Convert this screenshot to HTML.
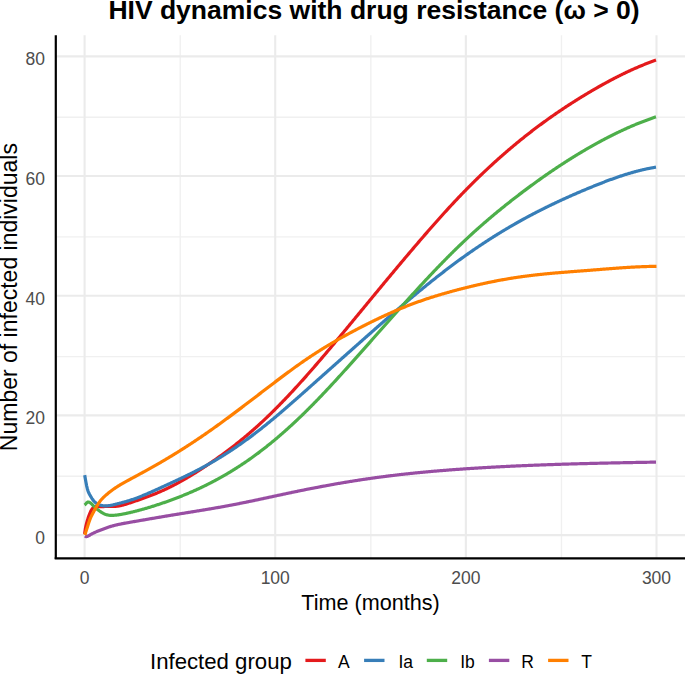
<!DOCTYPE html>
<html><head><meta charset="utf-8"><style>
html,body{margin:0;padding:0;background:#fff;}
body{width:685px;height:674px;overflow:hidden;}
svg{display:block;font-family:"Liberation Sans",sans-serif;}
.tk{font-size:17.5px;fill:#4D4D4D;}
.at{font-size:21.6px;fill:#000;}
.yt{font-size:23px;}
.tt{font-size:26.5px;font-weight:bold;fill:#000;}
.lt{font-size:22.2px;fill:#000;}
.lg{font-size:17.5px;fill:#000;}
</style></head><body>
<svg width="685" height="674" viewBox="0 0 685 674">
<rect width="685" height="674" fill="#fff"/>
<line x1="56.0" x2="685.0" y1="476.26" y2="476.26" stroke="#F0F0F0" stroke-width="1.4"/>
<line x1="56.0" x2="685.0" y1="356.58" y2="356.58" stroke="#F0F0F0" stroke-width="1.4"/>
<line x1="56.0" x2="685.0" y1="236.90" y2="236.90" stroke="#F0F0F0" stroke-width="1.4"/>
<line x1="56.0" x2="685.0" y1="117.22" y2="117.22" stroke="#F0F0F0" stroke-width="1.4"/>
<line y1="35.2" y2="558.0" x1="180.22" x2="180.22" stroke="#F0F0F0" stroke-width="1.4"/>
<line y1="35.2" y2="558.0" x1="370.84" x2="370.84" stroke="#F0F0F0" stroke-width="1.4"/>
<line y1="35.2" y2="558.0" x1="561.48" x2="561.48" stroke="#F0F0F0" stroke-width="1.4"/>
<line x1="56.0" x2="685.0" y1="535.10" y2="535.10" stroke="#EBEBEB" stroke-width="2.1"/>
<line x1="56.0" x2="685.0" y1="415.42" y2="415.42" stroke="#EBEBEB" stroke-width="2.1"/>
<line x1="56.0" x2="685.0" y1="295.74" y2="295.74" stroke="#EBEBEB" stroke-width="2.1"/>
<line x1="56.0" x2="685.0" y1="176.06" y2="176.06" stroke="#EBEBEB" stroke-width="2.1"/>
<line x1="56.0" x2="685.0" y1="56.38" y2="56.38" stroke="#EBEBEB" stroke-width="2.1"/>
<line y1="35.2" y2="558.0" x1="84.60" x2="84.60" stroke="#EBEBEB" stroke-width="2.1"/>
<line y1="35.2" y2="558.0" x1="275.23" x2="275.23" stroke="#EBEBEB" stroke-width="2.1"/>
<line y1="35.2" y2="558.0" x1="465.86" x2="465.86" stroke="#EBEBEB" stroke-width="2.1"/>
<line y1="35.2" y2="558.0" x1="656.49" x2="656.49" stroke="#EBEBEB" stroke-width="2.1"/>
<path d="M84.60,534.01 L85.27,529.38 L85.94,525.89 L86.60,523.15 L87.27,520.80 L87.94,518.61 L88.61,516.59 L89.27,514.74 L89.94,513.08 L90.61,511.61 L91.28,510.33 L91.94,509.25 L92.61,508.35 L93.28,507.63 L93.95,507.09 L94.61,506.72 L95.28,506.49 L95.95,506.39 L96.62,506.37 L97.28,506.42 L97.95,506.51 L98.62,506.60 L99.29,506.68 L99.95,506.73 L100.62,506.75 L101.29,506.74 L101.96,506.72 L102.62,506.68 L103.29,506.63 L103.96,506.58 L104.63,506.52 L105.29,506.47 L105.96,506.43 L106.63,506.40 L107.30,506.38 L107.96,506.38 L108.63,506.38 L109.30,506.38 L109.97,506.39 L110.63,506.40 L111.30,506.41 L111.97,506.42 L112.64,506.43 L113.30,506.43 L113.97,506.42 L114.64,506.40 L115.31,506.37 L115.97,506.32 L116.64,506.26 L117.31,506.19 L117.98,506.10 L118.64,505.99 L119.31,505.88 L119.98,505.75 L120.65,505.61 L121.31,505.46 L121.98,505.29 L122.65,505.12 L123.32,504.94 L123.98,504.76 L124.65,504.56 L125.32,504.37 L125.99,504.16 L126.65,503.95 L127.32,503.74 L127.99,503.52 L128.66,503.30 L129.32,503.08 L129.99,502.86 L130.66,502.63 L131.33,502.41 L131.99,502.19 L132.66,501.96 L133.33,501.74 L134.00,501.51 L134.66,501.29 L135.33,501.06 L136.00,500.83 L136.67,500.61 L137.33,500.38 L138.00,500.15 L138.67,499.92 L139.34,499.69 L140.00,499.46 L140.67,499.22 L141.34,498.99 L142.01,498.75 L142.67,498.52 L143.34,498.28 L144.01,498.04 L144.68,497.80 L145.34,497.55 L146.01,497.31 L146.68,497.06 L147.35,496.82 L148.01,496.57 L148.68,496.32 L149.35,496.07 L150.02,495.81 L150.68,495.55 L151.35,495.30 L152.02,495.03 L152.69,494.77 L153.35,494.51 L154.02,494.24 L154.69,493.97 L155.36,493.70 L156.02,493.42 L156.69,493.15 L157.36,492.87 L158.03,492.59 L158.70,492.30 L159.36,492.02 L160.03,491.73 L160.70,491.43 L161.37,491.14 L162.03,490.84 L162.70,490.54 L163.37,490.24 L164.04,489.93 L164.70,489.62 L165.37,489.31 L166.04,488.99 L166.71,488.68 L167.37,488.36 L168.04,488.03 L168.71,487.71 L169.38,487.38 L170.04,487.05 L170.71,486.72 L171.38,486.38 L172.05,486.05 L172.71,485.71 L173.38,485.36 L174.05,485.02 L174.72,484.67 L175.38,484.32 L176.05,483.97 L176.72,483.61 L177.39,483.26 L178.05,482.90 L178.72,482.54 L179.39,482.17 L180.06,481.80 L180.72,481.44 L181.39,481.06 L182.06,480.69 L182.73,480.32 L183.39,479.94 L184.06,479.56 L184.73,479.17 L185.40,478.79 L186.06,478.40 L186.73,478.01 L187.40,477.62 L188.07,477.23 L188.73,476.84 L189.40,476.44 L190.07,476.04 L190.74,475.64 L191.40,475.23 L192.07,474.83 L192.74,474.42 L193.41,474.01 L194.07,473.60 L194.74,473.19 L195.41,472.77 L196.08,472.35 L196.74,471.93 L197.41,471.51 L198.08,471.09 L198.75,470.66 L199.41,470.24 L200.08,469.81 L200.75,469.38 L201.42,468.95 L202.08,468.51 L202.75,468.08 L203.42,467.64 L204.09,467.20 L204.75,466.76 L205.42,466.32 L206.09,465.87 L206.76,465.43 L207.42,464.98 L208.09,464.53 L208.76,464.08 L209.43,463.63 L210.09,463.17 L210.76,462.72 L211.43,462.26 L212.10,461.80 L212.76,461.34 L213.43,460.88 L214.10,460.42 L214.77,459.95 L215.43,459.48 L216.10,459.02 L216.77,458.55 L217.44,458.07 L218.10,457.60 L218.77,457.12 L219.44,456.65 L220.11,456.17 L220.77,455.69 L221.44,455.21 L222.11,454.72 L222.78,454.24 L223.44,453.75 L224.11,453.26 L224.78,452.77 L225.45,452.27 L226.11,451.78 L226.78,451.28 L227.45,450.78 L228.12,450.28 L228.79,449.78 L229.45,449.27 L230.12,448.76 L230.79,448.25 L231.46,447.74 L232.12,447.23 L232.79,446.71 L233.46,446.20 L234.13,445.68 L234.79,445.16 L235.46,444.63 L236.13,444.11 L236.80,443.58 L237.46,443.05 L238.13,442.52 L238.80,441.98 L239.47,441.45 L240.13,440.91 L240.80,440.37 L241.47,439.83 L242.14,439.28 L242.80,438.73 L243.47,438.18 L244.14,437.63 L244.81,437.08 L245.47,436.52 L246.14,435.96 L246.81,435.40 L247.48,434.84 L248.14,434.27 L248.81,433.70 L249.48,433.13 L250.15,432.56 L250.81,431.98 L251.48,431.40 L252.15,430.82 L252.82,430.24 L253.48,429.65 L254.15,429.07 L254.82,428.48 L255.49,427.88 L256.15,427.29 L256.82,426.69 L257.49,426.09 L258.16,425.48 L258.82,424.88 L259.49,424.27 L260.16,423.66 L260.83,423.04 L261.49,422.43 L262.16,421.81 L262.83,421.19 L263.50,420.56 L264.16,419.94 L264.83,419.31 L265.50,418.68 L266.17,418.04 L266.83,417.40 L267.50,416.77 L268.17,416.12 L268.84,415.48 L269.50,414.83 L270.17,414.18 L270.84,413.53 L271.51,412.88 L272.17,412.22 L272.84,411.56 L273.51,410.90 L274.18,410.24 L274.84,409.58 L275.51,408.91 L276.18,408.24 L276.85,407.57 L277.51,406.89 L278.18,406.22 L278.85,405.54 L279.52,404.86 L280.18,404.17 L280.85,403.49 L281.52,402.80 L282.19,402.11 L282.85,401.42 L283.52,400.73 L284.19,400.03 L284.86,399.34 L285.52,398.64 L286.19,397.94 L286.86,397.23 L287.53,396.53 L288.19,395.82 L288.86,395.11 L289.53,394.40 L290.20,393.69 L290.86,392.97 L291.53,392.26 L292.20,391.54 L292.87,390.82 L293.53,390.10 L294.20,389.37 L294.87,388.65 L295.54,387.92 L296.20,387.19 L296.87,386.46 L297.54,385.73 L298.21,385.00 L298.88,384.26 L299.54,383.52 L300.21,382.79 L300.88,382.05 L301.55,381.30 L302.21,380.56 L302.88,379.82 L303.55,379.07 L304.22,378.32 L304.88,377.57 L305.55,376.82 L306.22,376.07 L306.89,375.31 L307.55,374.56 L308.22,373.80 L308.89,373.04 L309.56,372.28 L310.22,371.52 L310.89,370.76 L311.56,370.00 L312.23,369.23 L312.89,368.47 L313.56,367.70 L314.23,366.93 L314.90,366.16 L315.56,365.39 L316.23,364.62 L316.90,363.84 L317.57,363.07 L318.23,362.29 L318.90,361.52 L319.57,360.74 L320.24,359.96 L320.90,359.18 L321.57,358.40 L322.24,357.62 L322.91,356.83 L323.57,356.05 L324.24,355.27 L324.91,354.48 L325.58,353.69 L326.24,352.90 L326.91,352.12 L327.58,351.33 L328.25,350.54 L328.91,349.74 L329.58,348.95 L330.25,348.16 L330.92,347.37 L331.58,346.57 L332.25,345.78 L332.92,344.98 L333.59,344.18 L334.25,343.39 L334.92,342.59 L335.59,341.79 L336.26,340.99 L336.92,340.19 L337.59,339.39 L338.26,338.59 L338.93,337.79 L339.59,336.98 L340.26,336.18 L340.93,335.38 L341.60,334.57 L342.26,333.77 L342.93,332.96 L343.60,332.16 L344.27,331.35 L344.93,330.55 L345.60,329.74 L346.27,328.93 L346.94,328.13 L347.60,327.32 L348.27,326.51 L348.94,325.70 L349.61,324.89 L350.27,324.09 L350.94,323.28 L351.61,322.47 L352.28,321.66 L352.94,320.85 L353.61,320.04 L354.28,319.23 L354.95,318.42 L355.61,317.61 L356.28,316.80 L356.95,315.99 L357.62,315.18 L358.28,314.37 L358.95,313.56 L359.62,312.75 L360.29,311.94 L360.95,311.13 L361.62,310.32 L362.29,309.51 L362.96,308.70 L363.62,307.89 L364.29,307.08 L364.96,306.27 L365.63,305.46 L366.29,304.65 L366.96,303.84 L367.63,303.03 L368.30,302.22 L368.96,301.41 L369.63,300.60 L370.30,299.79 L370.97,298.98 L371.64,298.17 L372.30,297.36 L372.97,296.56 L373.64,295.75 L374.31,294.94 L374.97,294.13 L375.64,293.32 L376.31,292.52 L376.98,291.71 L377.64,290.90 L378.31,290.09 L378.98,289.29 L379.65,288.48 L380.31,287.68 L380.98,286.87 L381.65,286.06 L382.32,285.26 L382.98,284.45 L383.65,283.65 L384.32,282.84 L384.99,282.04 L385.65,281.24 L386.32,280.43 L386.99,279.63 L387.66,278.83 L388.32,278.02 L388.99,277.22 L389.66,276.42 L390.33,275.62 L390.99,274.82 L391.66,274.02 L392.33,273.22 L393.00,272.42 L393.66,271.62 L394.33,270.82 L395.00,270.02 L395.67,269.22 L396.33,268.42 L397.00,267.62 L397.67,266.83 L398.34,266.03 L399.00,265.23 L399.67,264.44 L400.34,263.64 L401.01,262.85 L401.67,262.05 L402.34,261.26 L403.01,260.47 L403.68,259.67 L404.34,258.88 L405.01,258.09 L405.68,257.30 L406.35,256.51 L407.01,255.72 L407.68,254.93 L408.35,254.14 L409.02,253.35 L409.68,252.56 L410.35,251.78 L411.02,250.99 L411.69,250.20 L412.35,249.42 L413.02,248.63 L413.69,247.85 L414.36,247.07 L415.02,246.28 L415.69,245.50 L416.36,244.72 L417.03,243.94 L417.69,243.16 L418.36,242.38 L419.03,241.60 L419.70,240.82 L420.36,240.05 L421.03,239.27 L421.70,238.50 L422.37,237.72 L423.03,236.95 L423.70,236.18 L424.37,235.41 L425.04,234.64 L425.70,233.87 L426.37,233.10 L427.04,232.33 L427.71,231.56 L428.37,230.80 L429.04,230.03 L429.71,229.27 L430.38,228.51 L431.04,227.75 L431.71,226.99 L432.38,226.23 L433.05,225.47 L433.71,224.71 L434.38,223.96 L435.05,223.20 L435.72,222.45 L436.38,221.70 L437.05,220.95 L437.72,220.20 L438.39,219.45 L439.05,218.71 L439.72,217.96 L440.39,217.22 L441.06,216.47 L441.73,215.73 L442.39,214.99 L443.06,214.25 L443.73,213.52 L444.40,212.78 L445.06,212.04 L445.73,211.31 L446.40,210.58 L447.07,209.85 L447.73,209.12 L448.40,208.39 L449.07,207.67 L449.74,206.95 L450.40,206.22 L451.07,205.50 L451.74,204.78 L452.41,204.07 L453.07,203.35 L453.74,202.63 L454.41,201.92 L455.08,201.21 L455.74,200.50 L456.41,199.79 L457.08,199.09 L457.75,198.38 L458.41,197.68 L459.08,196.98 L459.75,196.28 L460.42,195.59 L461.08,194.89 L461.75,194.20 L462.42,193.51 L463.09,192.82 L463.75,192.13 L464.42,191.44 L465.09,190.76 L465.76,190.08 L466.42,189.40 L467.09,188.72 L467.76,188.04 L468.43,187.36 L469.09,186.69 L469.76,186.02 L470.43,185.35 L471.10,184.68 L471.76,184.02 L472.43,183.35 L473.10,182.69 L473.77,182.03 L474.43,181.37 L475.10,180.71 L475.77,180.06 L476.44,179.40 L477.10,178.75 L477.77,178.10 L478.44,177.45 L479.11,176.80 L479.77,176.16 L480.44,175.52 L481.11,174.87 L481.78,174.23 L482.44,173.60 L483.11,172.96 L483.78,172.33 L484.45,171.69 L485.11,171.06 L485.78,170.43 L486.45,169.81 L487.12,169.18 L487.78,168.56 L488.45,167.93 L489.12,167.31 L489.79,166.69 L490.45,166.08 L491.12,165.46 L491.79,164.85 L492.46,164.24 L493.12,163.63 L493.79,163.02 L494.46,162.41 L495.13,161.81 L495.79,161.20 L496.46,160.60 L497.13,160.00 L497.80,159.40 L498.46,158.81 L499.13,158.21 L499.80,157.62 L500.47,157.03 L501.13,156.44 L501.80,155.85 L502.47,155.27 L503.14,154.68 L503.80,154.10 L504.47,153.52 L505.14,152.94 L505.81,152.36 L506.47,151.78 L507.14,151.21 L507.81,150.64 L508.48,150.07 L509.14,149.50 L509.81,148.93 L510.48,148.36 L511.15,147.80 L511.81,147.24 L512.48,146.68 L513.15,146.12 L513.82,145.56 L514.49,145.00 L515.15,144.45 L515.82,143.90 L516.49,143.35 L517.16,142.80 L517.82,142.25 L518.49,141.70 L519.16,141.16 L519.83,140.62 L520.49,140.08 L521.16,139.54 L521.83,139.00 L522.50,138.46 L523.16,137.93 L523.83,137.39 L524.50,136.86 L525.17,136.33 L525.83,135.81 L526.50,135.28 L527.17,134.75 L527.84,134.23 L528.50,133.71 L529.17,133.19 L529.84,132.67 L530.51,132.15 L531.17,131.64 L531.84,131.13 L532.51,130.61 L533.18,130.10 L533.84,129.59 L534.51,129.09 L535.18,128.58 L535.85,128.08 L536.51,127.57 L537.18,127.07 L537.85,126.57 L538.52,126.07 L539.18,125.58 L539.85,125.08 L540.52,124.59 L541.19,124.10 L541.85,123.60 L542.52,123.12 L543.19,122.63 L543.86,122.14 L544.52,121.66 L545.19,121.17 L545.86,120.69 L546.53,120.21 L547.19,119.73 L547.86,119.25 L548.53,118.78 L549.20,118.30 L549.86,117.83 L550.53,117.36 L551.20,116.89 L551.87,116.42 L552.53,115.95 L553.20,115.49 L553.87,115.02 L554.54,114.56 L555.20,114.10 L555.87,113.64 L556.54,113.18 L557.21,112.72 L557.87,112.26 L558.54,111.81 L559.21,111.36 L559.88,110.90 L560.54,110.45 L561.21,110.00 L561.88,109.56 L562.55,109.11 L563.21,108.66 L563.88,108.22 L564.55,107.78 L565.22,107.34 L565.88,106.90 L566.55,106.46 L567.22,106.02 L567.89,105.59 L568.55,105.15 L569.22,104.72 L569.89,104.29 L570.56,103.85 L571.22,103.43 L571.89,103.00 L572.56,102.57 L573.23,102.15 L573.89,101.72 L574.56,101.30 L575.23,100.88 L575.90,100.46 L576.56,100.04 L577.23,99.62 L577.90,99.20 L578.57,98.79 L579.23,98.37 L579.90,97.96 L580.57,97.55 L581.24,97.14 L581.90,96.73 L582.57,96.32 L583.24,95.91 L583.91,95.51 L584.57,95.10 L585.24,94.70 L585.91,94.30 L586.58,93.90 L587.25,93.50 L587.91,93.10 L588.58,92.70 L589.25,92.31 L589.92,91.91 L590.58,91.52 L591.25,91.12 L591.92,90.73 L592.59,90.34 L593.25,89.95 L593.92,89.57 L594.59,89.18 L595.26,88.79 L595.92,88.41 L596.59,88.03 L597.26,87.64 L597.93,87.26 L598.59,86.88 L599.26,86.51 L599.93,86.13 L600.60,85.75 L601.26,85.38 L601.93,85.01 L602.60,84.64 L603.27,84.27 L603.93,83.90 L604.60,83.53 L605.27,83.17 L605.94,82.80 L606.60,82.44 L607.27,82.08 L607.94,81.72 L608.61,81.36 L609.27,81.00 L609.94,80.64 L610.61,80.29 L611.28,79.94 L611.94,79.58 L612.61,79.23 L613.28,78.89 L613.95,78.54 L614.61,78.19 L615.28,77.85 L615.95,77.51 L616.62,77.16 L617.28,76.83 L617.95,76.49 L618.62,76.15 L619.29,75.82 L619.95,75.48 L620.62,75.15 L621.29,74.82 L621.96,74.49 L622.62,74.17 L623.29,73.84 L623.96,73.52 L624.63,73.20 L625.29,72.87 L625.96,72.56 L626.63,72.24 L627.30,71.92 L627.96,71.61 L628.63,71.30 L629.30,70.99 L629.97,70.68 L630.63,70.37 L631.30,70.07 L631.97,69.77 L632.64,69.46 L633.30,69.16 L633.97,68.87 L634.64,68.57 L635.31,68.28 L635.97,67.98 L636.64,67.69 L637.31,67.41 L637.98,67.12 L638.64,66.83 L639.31,66.55 L639.98,66.27 L640.65,65.99 L641.31,65.71 L641.98,65.44 L642.65,65.16 L643.32,64.89 L643.98,64.62 L644.65,64.35 L645.32,64.09 L645.99,63.82 L646.65,63.56 L647.32,63.30 L647.99,63.04 L648.66,62.79 L649.32,62.53 L649.99,62.28 L650.66,62.03 L651.33,61.78 L651.99,61.54 L652.66,61.29 L653.33,61.05 L654.00,60.81 L654.66,60.57 L655.33,60.34 L656.00,60.10" fill="none" stroke="#E41A1C" stroke-width="3.2" stroke-linejoin="round" stroke-linecap="butt"/>
<path d="M84.70,475.10 L85.37,478.93 L86.04,482.69 L86.70,486.11 L87.37,488.91 L88.04,491.07 L88.71,492.74 L89.38,494.08 L90.05,495.25 L90.71,496.39 L91.38,497.49 L92.05,498.54 L92.72,499.53 L93.39,500.44 L94.05,501.25 L94.72,501.96 L95.39,502.57 L96.06,503.09 L96.73,503.54 L97.40,503.93 L98.06,504.26 L98.73,504.54 L99.40,504.80 L100.07,505.02 L100.74,505.22 L101.40,505.39 L102.07,505.54 L102.74,505.66 L103.41,505.75 L104.08,505.82 L104.75,505.87 L105.41,505.89 L106.08,505.90 L106.75,505.88 L107.42,505.84 L108.09,505.78 L108.75,505.70 L109.42,505.61 L110.09,505.50 L110.76,505.38 L111.43,505.25 L112.10,505.11 L112.76,504.96 L113.43,504.80 L114.10,504.64 L114.77,504.47 L115.44,504.31 L116.10,504.14 L116.77,503.97 L117.44,503.80 L118.11,503.63 L118.78,503.46 L119.45,503.29 L120.11,503.11 L120.78,502.94 L121.45,502.77 L122.12,502.59 L122.79,502.41 L123.45,502.23 L124.12,502.05 L124.79,501.87 L125.46,501.68 L126.13,501.49 L126.80,501.30 L127.46,501.10 L128.13,500.91 L128.80,500.70 L129.47,500.50 L130.14,500.29 L130.80,500.07 L131.47,499.85 L132.14,499.63 L132.81,499.40 L133.48,499.17 L134.15,498.94 L134.81,498.70 L135.48,498.46 L136.15,498.21 L136.82,497.97 L137.49,497.71 L138.15,497.46 L138.82,497.20 L139.49,496.94 L140.16,496.68 L140.83,496.41 L141.50,496.14 L142.16,495.87 L142.83,495.60 L143.50,495.32 L144.17,495.04 L144.84,494.76 L145.51,494.48 L146.17,494.19 L146.84,493.91 L147.51,493.62 L148.18,493.33 L148.85,493.04 L149.51,492.74 L150.18,492.45 L150.85,492.15 L151.52,491.86 L152.19,491.56 L152.86,491.26 L153.52,490.96 L154.19,490.65 L154.86,490.35 L155.53,490.05 L156.20,489.75 L156.86,489.44 L157.53,489.14 L158.20,488.83 L158.87,488.53 L159.54,488.22 L160.21,487.92 L160.87,487.61 L161.54,487.31 L162.21,487.00 L162.88,486.70 L163.55,486.39 L164.21,486.09 L164.88,485.78 L165.55,485.48 L166.22,485.17 L166.89,484.87 L167.56,484.56 L168.22,484.25 L168.89,483.95 L169.56,483.64 L170.23,483.33 L170.90,483.02 L171.56,482.72 L172.23,482.41 L172.90,482.10 L173.57,481.79 L174.24,481.48 L174.91,481.17 L175.57,480.86 L176.24,480.55 L176.91,480.23 L177.58,479.92 L178.25,479.61 L178.91,479.29 L179.58,478.98 L180.25,478.66 L180.92,478.35 L181.59,478.03 L182.26,477.71 L182.92,477.39 L183.59,477.07 L184.26,476.75 L184.93,476.43 L185.60,476.11 L186.26,475.78 L186.93,475.46 L187.60,475.13 L188.27,474.81 L188.94,474.48 L189.61,474.15 L190.27,473.82 L190.94,473.49 L191.61,473.15 L192.28,472.82 L192.95,472.48 L193.61,472.15 L194.28,471.81 L194.95,471.47 L195.62,471.13 L196.29,470.79 L196.96,470.44 L197.62,470.10 L198.29,469.75 L198.96,469.40 L199.63,469.05 L200.30,468.70 L200.96,468.35 L201.63,467.99 L202.30,467.64 L202.97,467.28 L203.64,466.92 L204.31,466.56 L204.97,466.19 L205.64,465.83 L206.31,465.46 L206.98,465.09 L207.65,464.72 L208.31,464.35 L208.98,463.97 L209.65,463.60 L210.32,463.22 L210.99,462.84 L211.66,462.45 L212.32,462.07 L212.99,461.68 L213.66,461.29 L214.33,460.90 L215.00,460.51 L215.66,460.11 L216.33,459.72 L217.00,459.32 L217.67,458.92 L218.34,458.51 L219.01,458.11 L219.67,457.70 L220.34,457.29 L221.01,456.88 L221.68,456.47 L222.35,456.05 L223.01,455.64 L223.68,455.22 L224.35,454.80 L225.02,454.38 L225.69,453.95 L226.36,453.52 L227.02,453.09 L227.69,452.66 L228.36,452.23 L229.03,451.80 L229.70,451.36 L230.36,450.92 L231.03,450.48 L231.70,450.04 L232.37,449.59 L233.04,449.15 L233.71,448.70 L234.37,448.25 L235.04,447.80 L235.71,447.34 L236.38,446.89 L237.05,446.43 L237.71,445.97 L238.38,445.51 L239.05,445.04 L239.72,444.58 L240.39,444.11 L241.06,443.64 L241.72,443.17 L242.39,442.69 L243.06,442.22 L243.73,441.74 L244.40,441.26 L245.06,440.78 L245.73,440.30 L246.40,439.81 L247.07,439.33 L247.74,438.84 L248.41,438.35 L249.07,437.85 L249.74,437.36 L250.41,436.86 L251.08,436.37 L251.75,435.87 L252.41,435.36 L253.08,434.86 L253.75,434.35 L254.42,433.85 L255.09,433.34 L255.76,432.83 L256.42,432.31 L257.09,431.80 L257.76,431.28 L258.43,430.76 L259.10,430.24 L259.77,429.72 L260.43,429.20 L261.10,428.67 L261.77,428.14 L262.44,427.61 L263.11,427.08 L263.77,426.55 L264.44,426.01 L265.11,425.48 L265.78,424.94 L266.45,424.40 L267.12,423.86 L267.78,423.31 L268.45,422.77 L269.12,422.22 L269.79,421.68 L270.46,421.13 L271.12,420.58 L271.79,420.02 L272.46,419.47 L273.13,418.92 L273.80,418.36 L274.47,417.80 L275.13,417.24 L275.80,416.68 L276.47,416.12 L277.14,415.56 L277.81,414.99 L278.47,414.43 L279.14,413.86 L279.81,413.30 L280.48,412.73 L281.15,412.16 L281.82,411.59 L282.48,411.01 L283.15,410.44 L283.82,409.87 L284.49,409.29 L285.16,408.72 L285.82,408.14 L286.49,407.56 L287.16,406.98 L287.83,406.40 L288.50,405.82 L289.17,405.24 L289.83,404.66 L290.50,404.08 L291.17,403.50 L291.84,402.91 L292.51,402.33 L293.17,401.74 L293.84,401.15 L294.51,400.57 L295.18,399.98 L295.85,399.39 L296.52,398.80 L297.18,398.22 L297.85,397.63 L298.52,397.04 L299.19,396.44 L299.86,395.85 L300.52,395.26 L301.19,394.67 L301.86,394.08 L302.53,393.49 L303.20,392.89 L303.87,392.30 L304.53,391.71 L305.20,391.11 L305.87,390.52 L306.54,389.93 L307.21,389.33 L307.87,388.74 L308.54,388.14 L309.21,387.55 L309.88,386.95 L310.55,386.36 L311.22,385.77 L311.88,385.17 L312.55,384.58 L313.22,383.98 L313.89,383.39 L314.56,382.79 L315.22,382.20 L315.89,381.60 L316.56,381.01 L317.23,380.41 L317.90,379.82 L318.57,379.22 L319.23,378.63 L319.90,378.03 L320.57,377.44 L321.24,376.84 L321.91,376.25 L322.57,375.65 L323.24,375.06 L323.91,374.46 L324.58,373.87 L325.25,373.27 L325.92,372.68 L326.58,372.08 L327.25,371.49 L327.92,370.89 L328.59,370.30 L329.26,369.70 L329.92,369.11 L330.59,368.51 L331.26,367.92 L331.93,367.32 L332.60,366.73 L333.27,366.13 L333.93,365.54 L334.60,364.95 L335.27,364.35 L335.94,363.76 L336.61,363.16 L337.27,362.57 L337.94,361.97 L338.61,361.38 L339.28,360.78 L339.95,360.19 L340.62,359.59 L341.28,359.00 L341.95,358.41 L342.62,357.81 L343.29,357.22 L343.96,356.62 L344.62,356.03 L345.29,355.44 L345.96,354.84 L346.63,354.25 L347.30,353.65 L347.97,353.06 L348.63,352.47 L349.30,351.87 L349.97,351.28 L350.64,350.69 L351.31,350.09 L351.97,349.50 L352.64,348.91 L353.31,348.31 L353.98,347.72 L354.65,347.13 L355.32,346.54 L355.98,345.94 L356.65,345.35 L357.32,344.76 L357.99,344.17 L358.66,343.57 L359.32,342.98 L359.99,342.39 L360.66,341.80 L361.33,341.21 L362.00,340.61 L362.67,340.02 L363.33,339.43 L364.00,338.84 L364.67,338.25 L365.34,337.66 L366.01,337.07 L366.67,336.48 L367.34,335.89 L368.01,335.30 L368.68,334.71 L369.35,334.12 L370.02,333.53 L370.68,332.94 L371.35,332.35 L372.02,331.76 L372.69,331.17 L373.36,330.58 L374.03,329.99 L374.69,329.41 L375.36,328.82 L376.03,328.23 L376.70,327.64 L377.37,327.06 L378.03,326.47 L378.70,325.89 L379.37,325.30 L380.04,324.72 L380.71,324.13 L381.38,323.55 L382.04,322.96 L382.71,322.38 L383.38,321.80 L384.05,321.21 L384.72,320.63 L385.38,320.05 L386.05,319.47 L386.72,318.88 L387.39,318.30 L388.06,317.72 L388.73,317.14 L389.39,316.56 L390.06,315.98 L390.73,315.41 L391.40,314.83 L392.07,314.25 L392.73,313.67 L393.40,313.10 L394.07,312.52 L394.74,311.94 L395.41,311.37 L396.08,310.80 L396.74,310.22 L397.41,309.65 L398.08,309.07 L398.75,308.50 L399.42,307.93 L400.08,307.36 L400.75,306.79 L401.42,306.22 L402.09,305.65 L402.76,305.08 L403.43,304.51 L404.09,303.95 L404.76,303.38 L405.43,302.81 L406.10,302.25 L406.77,301.68 L407.43,301.12 L408.10,300.56 L408.77,299.99 L409.44,299.43 L410.11,298.87 L410.78,298.31 L411.44,297.75 L412.11,297.19 L412.78,296.63 L413.45,296.07 L414.12,295.52 L414.78,294.96 L415.45,294.40 L416.12,293.85 L416.79,293.30 L417.46,292.74 L418.13,292.19 L418.79,291.64 L419.46,291.09 L420.13,290.54 L420.80,289.99 L421.47,289.44 L422.13,288.90 L422.80,288.35 L423.47,287.80 L424.14,287.26 L424.81,286.71 L425.48,286.17 L426.14,285.63 L426.81,285.09 L427.48,284.55 L428.15,284.01 L428.82,283.47 L429.48,282.93 L430.15,282.40 L430.82,281.86 L431.49,281.33 L432.16,280.79 L432.83,280.26 L433.49,279.73 L434.16,279.20 L434.83,278.67 L435.50,278.14 L436.17,277.61 L436.83,277.09 L437.50,276.56 L438.17,276.04 L438.84,275.51 L439.51,274.99 L440.18,274.47 L440.84,273.95 L441.51,273.43 L442.18,272.91 L442.85,272.40 L443.52,271.88 L444.18,271.37 L444.85,270.85 L445.52,270.34 L446.19,269.83 L446.86,269.32 L447.53,268.81 L448.19,268.30 L448.86,267.79 L449.53,267.29 L450.20,266.78 L450.87,266.28 L451.53,265.78 L452.20,265.28 L452.87,264.78 L453.54,264.28 L454.21,263.78 L454.88,263.29 L455.54,262.79 L456.21,262.30 L456.88,261.81 L457.55,261.32 L458.22,260.83 L458.88,260.34 L459.55,259.85 L460.22,259.37 L460.89,258.88 L461.56,258.40 L462.23,257.92 L462.89,257.44 L463.56,256.96 L464.23,256.48 L464.90,256.00 L465.57,255.53 L466.23,255.05 L466.90,254.58 L467.57,254.11 L468.24,253.64 L468.91,253.17 L469.58,252.70 L470.24,252.24 L470.91,251.77 L471.58,251.31 L472.25,250.85 L472.92,250.39 L473.58,249.93 L474.25,249.47 L474.92,249.01 L475.59,248.55 L476.26,248.10 L476.93,247.65 L477.59,247.19 L478.26,246.74 L478.93,246.29 L479.60,245.85 L480.27,245.40 L480.93,244.95 L481.60,244.51 L482.27,244.07 L482.94,243.62 L483.61,243.18 L484.28,242.74 L484.94,242.31 L485.61,241.87 L486.28,241.43 L486.95,241.00 L487.62,240.57 L488.29,240.13 L488.95,239.70 L489.62,239.27 L490.29,238.85 L490.96,238.42 L491.63,237.99 L492.29,237.57 L492.96,237.15 L493.63,236.73 L494.30,236.30 L494.97,235.89 L495.64,235.47 L496.30,235.05 L496.97,234.64 L497.64,234.22 L498.31,233.81 L498.98,233.40 L499.64,232.99 L500.31,232.58 L500.98,232.17 L501.65,231.76 L502.32,231.36 L502.99,230.95 L503.65,230.55 L504.32,230.15 L504.99,229.75 L505.66,229.35 L506.33,228.95 L506.99,228.55 L507.66,228.16 L508.33,227.76 L509.00,227.37 L509.67,226.98 L510.34,226.59 L511.00,226.20 L511.67,225.81 L512.34,225.42 L513.01,225.04 L513.68,224.65 L514.34,224.27 L515.01,223.89 L515.68,223.50 L516.35,223.13 L517.02,222.75 L517.69,222.37 L518.35,221.99 L519.02,221.62 L519.69,221.24 L520.36,220.87 L521.03,220.50 L521.69,220.13 L522.36,219.76 L523.03,219.39 L523.70,219.03 L524.37,218.66 L525.04,218.30 L525.70,217.94 L526.37,217.57 L527.04,217.21 L527.71,216.85 L528.38,216.50 L529.04,216.14 L529.71,215.78 L530.38,215.43 L531.05,215.07 L531.72,214.72 L532.39,214.37 L533.05,214.02 L533.72,213.67 L534.39,213.32 L535.06,212.97 L535.73,212.63 L536.39,212.28 L537.06,211.94 L537.73,211.60 L538.40,211.25 L539.07,210.91 L539.74,210.57 L540.40,210.24 L541.07,209.90 L541.74,209.56 L542.41,209.23 L543.08,208.89 L543.74,208.56 L544.41,208.23 L545.08,207.89 L545.75,207.56 L546.42,207.23 L547.09,206.91 L547.75,206.58 L548.42,206.25 L549.09,205.93 L549.76,205.60 L550.43,205.28 L551.09,204.96 L551.76,204.63 L552.43,204.31 L553.10,203.99 L553.77,203.68 L554.44,203.36 L555.10,203.04 L555.77,202.73 L556.44,202.41 L557.11,202.10 L557.78,201.78 L558.44,201.47 L559.11,201.16 L559.78,200.85 L560.45,200.54 L561.12,200.23 L561.79,199.92 L562.45,199.62 L563.12,199.31 L563.79,199.01 L564.46,198.70 L565.13,198.40 L565.79,198.10 L566.46,197.79 L567.13,197.49 L567.80,197.19 L568.47,196.89 L569.14,196.60 L569.80,196.30 L570.47,196.00 L571.14,195.71 L571.81,195.41 L572.48,195.12 L573.14,194.82 L573.81,194.53 L574.48,194.24 L575.15,193.95 L575.82,193.66 L576.49,193.37 L577.15,193.08 L577.82,192.79 L578.49,192.50 L579.16,192.22 L579.83,191.93 L580.49,191.65 L581.16,191.36 L581.83,191.08 L582.50,190.79 L583.17,190.51 L583.84,190.23 L584.50,189.95 L585.17,189.67 L585.84,189.39 L586.51,189.11 L587.18,188.83 L587.84,188.56 L588.51,188.28 L589.18,188.00 L589.85,187.73 L590.52,187.45 L591.19,187.18 L591.85,186.91 L592.52,186.63 L593.19,186.36 L593.86,186.09 L594.53,185.82 L595.19,185.55 L595.86,185.28 L596.53,185.01 L597.20,184.75 L597.87,184.48 L598.54,184.21 L599.20,183.95 L599.87,183.69 L600.54,183.42 L601.21,183.16 L601.88,182.90 L602.55,182.64 L603.21,182.38 L603.88,182.13 L604.55,181.87 L605.22,181.62 L605.89,181.36 L606.55,181.11 L607.22,180.86 L607.89,180.61 L608.56,180.36 L609.23,180.11 L609.90,179.86 L610.56,179.62 L611.23,179.38 L611.90,179.13 L612.57,178.89 L613.24,178.65 L613.90,178.41 L614.57,178.18 L615.24,177.94 L615.91,177.71 L616.58,177.47 L617.25,177.24 L617.91,177.01 L618.58,176.79 L619.25,176.56 L619.92,176.33 L620.59,176.11 L621.25,175.89 L621.92,175.67 L622.59,175.45 L623.26,175.24 L623.93,175.02 L624.60,174.81 L625.26,174.60 L625.93,174.39 L626.60,174.18 L627.27,173.97 L627.94,173.77 L628.60,173.57 L629.27,173.37 L629.94,173.17 L630.61,172.97 L631.28,172.78 L631.95,172.59 L632.61,172.40 L633.28,172.21 L633.95,172.02 L634.62,171.84 L635.29,171.66 L635.95,171.48 L636.62,171.30 L637.29,171.12 L637.96,170.95 L638.63,170.78 L639.30,170.61 L639.96,170.44 L640.63,170.28 L641.30,170.11 L641.97,169.95 L642.64,169.80 L643.30,169.64 L643.97,169.49 L644.64,169.34 L645.31,169.19 L645.98,169.04 L646.65,168.90 L647.31,168.76 L647.98,168.62 L648.65,168.49 L649.32,168.35 L649.99,168.22 L650.65,168.10 L651.32,167.97 L651.99,167.85 L652.66,167.73 L653.33,167.61 L654.00,167.50 L654.66,167.38 L655.33,167.27 L656.00,167.17" fill="none" stroke="#377EB8" stroke-width="3.2" stroke-linejoin="round" stroke-linecap="butt"/>
<path d="M84.50,505.00 L85.17,504.55 L85.84,503.80 L86.50,503.00 L87.17,502.36 L87.84,502.05 L88.51,502.01 L89.17,502.20 L89.84,502.56 L90.51,503.03 L91.18,503.58 L91.84,504.20 L92.51,504.86 L93.18,505.53 L93.85,506.21 L94.51,506.86 L95.18,507.49 L95.85,508.10 L96.52,508.68 L97.19,509.24 L97.85,509.78 L98.52,510.29 L99.19,510.79 L99.86,511.26 L100.52,511.72 L101.19,512.15 L101.86,512.56 L102.53,512.95 L103.19,513.31 L103.86,513.64 L104.53,513.95 L105.20,514.22 L105.86,514.46 L106.53,514.67 L107.20,514.85 L107.87,515.00 L108.54,515.12 L109.20,515.22 L109.87,515.29 L110.54,515.34 L111.21,515.37 L111.87,515.38 L112.54,515.37 L113.21,515.34 L113.88,515.31 L114.54,515.26 L115.21,515.20 L115.88,515.13 L116.55,515.06 L117.21,514.97 L117.88,514.89 L118.55,514.80 L119.22,514.70 L119.88,514.60 L120.55,514.49 L121.22,514.38 L121.89,514.26 L122.56,514.14 L123.22,514.01 L123.89,513.88 L124.56,513.75 L125.23,513.62 L125.89,513.48 L126.56,513.33 L127.23,513.19 L127.90,513.04 L128.56,512.89 L129.23,512.74 L129.90,512.58 L130.57,512.42 L131.23,512.27 L131.90,512.11 L132.57,511.94 L133.24,511.78 L133.91,511.61 L134.57,511.45 L135.24,511.28 L135.91,511.11 L136.58,510.94 L137.24,510.76 L137.91,510.59 L138.58,510.41 L139.25,510.23 L139.91,510.05 L140.58,509.87 L141.25,509.69 L141.92,509.50 L142.58,509.32 L143.25,509.13 L143.92,508.94 L144.59,508.75 L145.26,508.56 L145.92,508.36 L146.59,508.17 L147.26,507.97 L147.93,507.77 L148.59,507.57 L149.26,507.37 L149.93,507.17 L150.60,506.97 L151.26,506.76 L151.93,506.55 L152.60,506.35 L153.27,506.14 L153.93,505.93 L154.60,505.71 L155.27,505.50 L155.94,505.29 L156.61,505.07 L157.27,504.85 L157.94,504.64 L158.61,504.42 L159.28,504.20 L159.94,503.97 L160.61,503.75 L161.28,503.53 L161.95,503.30 L162.61,503.07 L163.28,502.84 L163.95,502.62 L164.62,502.38 L165.28,502.15 L165.95,501.92 L166.62,501.69 L167.29,501.45 L167.96,501.21 L168.62,500.97 L169.29,500.73 L169.96,500.49 L170.63,500.25 L171.29,500.01 L171.96,499.76 L172.63,499.51 L173.30,499.27 L173.96,499.02 L174.63,498.77 L175.30,498.51 L175.97,498.26 L176.63,498.01 L177.30,497.75 L177.97,497.49 L178.64,497.23 L179.30,496.97 L179.97,496.71 L180.64,496.44 L181.31,496.18 L181.98,495.91 L182.64,495.64 L183.31,495.37 L183.98,495.10 L184.65,494.83 L185.31,494.55 L185.98,494.28 L186.65,494.00 L187.32,493.72 L187.98,493.44 L188.65,493.15 L189.32,492.87 L189.99,492.58 L190.65,492.29 L191.32,492.00 L191.99,491.71 L192.66,491.42 L193.33,491.13 L193.99,490.83 L194.66,490.53 L195.33,490.23 L196.00,489.93 L196.66,489.63 L197.33,489.32 L198.00,489.01 L198.67,488.71 L199.33,488.39 L200.00,488.08 L200.67,487.77 L201.34,487.45 L202.00,487.13 L202.67,486.82 L203.34,486.49 L204.01,486.17 L204.68,485.85 L205.34,485.52 L206.01,485.19 L206.68,484.86 L207.35,484.53 L208.01,484.19 L208.68,483.85 L209.35,483.52 L210.02,483.18 L210.68,482.83 L211.35,482.49 L212.02,482.14 L212.69,481.79 L213.35,481.44 L214.02,481.09 L214.69,480.74 L215.36,480.38 L216.03,480.02 L216.69,479.66 L217.36,479.30 L218.03,478.93 L218.70,478.57 L219.36,478.20 L220.03,477.83 L220.70,477.45 L221.37,477.08 L222.03,476.70 L222.70,476.32 L223.37,475.94 L224.04,475.56 L224.70,475.17 L225.37,474.79 L226.04,474.40 L226.71,474.01 L227.38,473.61 L228.04,473.22 L228.71,472.82 L229.38,472.42 L230.05,472.02 L230.71,471.61 L231.38,471.20 L232.05,470.80 L232.72,470.39 L233.38,469.97 L234.05,469.56 L234.72,469.14 L235.39,468.72 L236.05,468.30 L236.72,467.87 L237.39,467.45 L238.06,467.02 L238.72,466.59 L239.39,466.16 L240.06,465.72 L240.73,465.28 L241.40,464.84 L242.06,464.40 L242.73,463.96 L243.40,463.51 L244.07,463.06 L244.73,462.61 L245.40,462.16 L246.07,461.70 L246.74,461.24 L247.40,460.78 L248.07,460.32 L248.74,459.86 L249.41,459.39 L250.07,458.92 L250.74,458.45 L251.41,457.97 L252.08,457.50 L252.75,457.02 L253.41,456.54 L254.08,456.05 L254.75,455.57 L255.42,455.08 L256.08,454.59 L256.75,454.09 L257.42,453.60 L258.09,453.10 L258.75,452.60 L259.42,452.10 L260.09,451.59 L260.76,451.08 L261.42,450.57 L262.09,450.06 L262.76,449.54 L263.43,449.03 L264.10,448.51 L264.76,447.99 L265.43,447.46 L266.10,446.93 L266.77,446.40 L267.43,445.87 L268.10,445.34 L268.77,444.80 L269.44,444.26 L270.10,443.72 L270.77,443.18 L271.44,442.63 L272.11,442.08 L272.77,441.53 L273.44,440.98 L274.11,440.43 L274.78,439.87 L275.45,439.31 L276.11,438.75 L276.78,438.18 L277.45,437.62 L278.12,437.05 L278.78,436.48 L279.45,435.90 L280.12,435.33 L280.79,434.75 L281.45,434.17 L282.12,433.59 L282.79,433.01 L283.46,432.42 L284.12,431.83 L284.79,431.24 L285.46,430.65 L286.13,430.05 L286.79,429.45 L287.46,428.85 L288.13,428.25 L288.80,427.65 L289.47,427.04 L290.13,426.43 L290.80,425.82 L291.47,425.21 L292.14,424.60 L292.80,423.98 L293.47,423.36 L294.14,422.74 L294.81,422.12 L295.47,421.49 L296.14,420.87 L296.81,420.24 L297.48,419.61 L298.14,418.97 L298.81,418.34 L299.48,417.70 L300.15,417.06 L300.82,416.42 L301.48,415.78 L302.15,415.13 L302.82,414.48 L303.49,413.83 L304.15,413.18 L304.82,412.53 L305.49,411.87 L306.16,411.21 L306.82,410.56 L307.49,409.89 L308.16,409.23 L308.83,408.57 L309.49,407.90 L310.16,407.23 L310.83,406.56 L311.50,405.88 L312.17,405.21 L312.83,404.53 L313.50,403.85 L314.17,403.17 L314.84,402.49 L315.50,401.81 L316.17,401.12 L316.84,400.44 L317.51,399.75 L318.17,399.06 L318.84,398.36 L319.51,397.67 L320.18,396.97 L320.84,396.28 L321.51,395.58 L322.18,394.88 L322.85,394.17 L323.52,393.47 L324.18,392.77 L324.85,392.06 L325.52,391.35 L326.19,390.64 L326.85,389.93 L327.52,389.22 L328.19,388.51 L328.86,387.79 L329.52,387.08 L330.19,386.36 L330.86,385.64 L331.53,384.92 L332.19,384.20 L332.86,383.48 L333.53,382.75 L334.20,382.03 L334.87,381.30 L335.53,380.58 L336.20,379.85 L336.87,379.12 L337.54,378.39 L338.20,377.66 L338.87,376.93 L339.54,376.20 L340.21,375.46 L340.87,374.73 L341.54,373.99 L342.21,373.25 L342.88,372.52 L343.54,371.78 L344.21,371.04 L344.88,370.30 L345.55,369.56 L346.21,368.82 L346.88,368.08 L347.55,367.33 L348.22,366.59 L348.89,365.85 L349.55,365.10 L350.22,364.36 L350.89,363.61 L351.56,362.86 L352.22,362.12 L352.89,361.37 L353.56,360.62 L354.23,359.87 L354.89,359.12 L355.56,358.38 L356.23,357.63 L356.90,356.88 L357.56,356.12 L358.23,355.37 L358.90,354.62 L359.57,353.87 L360.24,353.12 L360.90,352.37 L361.57,351.62 L362.24,350.86 L362.91,350.11 L363.57,349.36 L364.24,348.60 L364.91,347.85 L365.58,347.10 L366.24,346.34 L366.91,345.59 L367.58,344.84 L368.25,344.08 L368.91,343.33 L369.58,342.57 L370.25,341.82 L370.92,341.06 L371.59,340.31 L372.25,339.56 L372.92,338.80 L373.59,338.05 L374.26,337.29 L374.92,336.54 L375.59,335.78 L376.26,335.03 L376.93,334.27 L377.59,333.52 L378.26,332.77 L378.93,332.01 L379.60,331.26 L380.26,330.50 L380.93,329.75 L381.60,329.00 L382.27,328.24 L382.94,327.49 L383.60,326.74 L384.27,325.98 L384.94,325.23 L385.61,324.48 L386.27,323.72 L386.94,322.97 L387.61,322.22 L388.28,321.47 L388.94,320.72 L389.61,319.97 L390.28,319.21 L390.95,318.46 L391.61,317.71 L392.28,316.96 L392.95,316.21 L393.62,315.47 L394.29,314.72 L394.95,313.97 L395.62,313.22 L396.29,312.47 L396.96,311.72 L397.62,310.98 L398.29,310.23 L398.96,309.49 L399.63,308.74 L400.29,307.99 L400.96,307.25 L401.63,306.51 L402.30,305.76 L402.96,305.02 L403.63,304.28 L404.30,303.54 L404.97,302.79 L405.63,302.05 L406.30,301.31 L406.97,300.57 L407.64,299.84 L408.31,299.10 L408.97,298.36 L409.64,297.62 L410.31,296.89 L410.98,296.15 L411.64,295.42 L412.31,294.68 L412.98,293.95 L413.65,293.22 L414.31,292.48 L414.98,291.75 L415.65,291.02 L416.32,290.29 L416.98,289.56 L417.65,288.84 L418.32,288.11 L418.99,287.38 L419.66,286.66 L420.32,285.93 L420.99,285.21 L421.66,284.49 L422.33,283.77 L422.99,283.05 L423.66,282.33 L424.33,281.61 L425.00,280.89 L425.66,280.17 L426.33,279.46 L427.00,278.74 L427.67,278.03 L428.33,277.32 L429.00,276.61 L429.67,275.90 L430.34,275.19 L431.01,274.48 L431.67,273.77 L432.34,273.07 L433.01,272.36 L433.68,271.66 L434.34,270.96 L435.01,270.26 L435.68,269.56 L436.35,268.86 L437.01,268.17 L437.68,267.47 L438.35,266.78 L439.02,266.08 L439.68,265.39 L440.35,264.70 L441.02,264.02 L441.69,263.33 L442.36,262.64 L443.02,261.96 L443.69,261.28 L444.36,260.60 L445.03,259.92 L445.69,259.24 L446.36,258.56 L447.03,257.89 L447.70,257.21 L448.36,256.54 L449.03,255.87 L449.70,255.20 L450.37,254.53 L451.03,253.87 L451.70,253.21 L452.37,252.54 L453.04,251.88 L453.71,251.22 L454.37,250.57 L455.04,249.91 L455.71,249.26 L456.38,248.61 L457.04,247.96 L457.71,247.31 L458.38,246.66 L459.05,246.02 L459.71,245.37 L460.38,244.73 L461.05,244.09 L461.72,243.46 L462.38,242.82 L463.05,242.19 L463.72,241.56 L464.39,240.93 L465.05,240.30 L465.72,239.67 L466.39,239.05 L467.06,238.43 L467.73,237.81 L468.39,237.19 L469.06,236.57 L469.73,235.95 L470.40,235.34 L471.06,234.73 L471.73,234.12 L472.40,233.51 L473.07,232.90 L473.73,232.30 L474.40,231.69 L475.07,231.09 L475.74,230.49 L476.40,229.89 L477.07,229.29 L477.74,228.70 L478.41,228.11 L479.08,227.51 L479.74,226.92 L480.41,226.33 L481.08,225.75 L481.75,225.16 L482.41,224.58 L483.08,224.00 L483.75,223.41 L484.42,222.84 L485.08,222.26 L485.75,221.68 L486.42,221.11 L487.09,220.53 L487.75,219.96 L488.42,219.39 L489.09,218.82 L489.76,218.26 L490.43,217.69 L491.09,217.13 L491.76,216.56 L492.43,216.00 L493.10,215.44 L493.76,214.88 L494.43,214.33 L495.10,213.77 L495.77,213.22 L496.43,212.66 L497.10,212.11 L497.77,211.56 L498.44,211.01 L499.10,210.47 L499.77,209.92 L500.44,209.38 L501.11,208.83 L501.78,208.29 L502.44,207.75 L503.11,207.21 L503.78,206.67 L504.45,206.14 L505.11,205.60 L505.78,205.07 L506.45,204.54 L507.12,204.00 L507.78,203.47 L508.45,202.94 L509.12,202.42 L509.79,201.89 L510.45,201.37 L511.12,200.84 L511.79,200.32 L512.46,199.80 L513.12,199.28 L513.79,198.76 L514.46,198.24 L515.13,197.72 L515.80,197.21 L516.46,196.69 L517.13,196.18 L517.80,195.66 L518.47,195.15 L519.13,194.64 L519.80,194.13 L520.47,193.63 L521.14,193.12 L521.80,192.61 L522.47,192.11 L523.14,191.60 L523.81,191.10 L524.47,190.60 L525.14,190.10 L525.81,189.60 L526.48,189.10 L527.15,188.60 L527.81,188.11 L528.48,187.61 L529.15,187.12 L529.82,186.63 L530.48,186.14 L531.15,185.65 L531.82,185.16 L532.49,184.67 L533.15,184.18 L533.82,183.70 L534.49,183.21 L535.16,182.73 L535.82,182.24 L536.49,181.76 L537.16,181.28 L537.83,180.80 L538.50,180.33 L539.16,179.85 L539.83,179.37 L540.50,178.90 L541.17,178.43 L541.83,177.95 L542.50,177.48 L543.17,177.01 L543.84,176.54 L544.50,176.08 L545.17,175.61 L545.84,175.15 L546.51,174.68 L547.17,174.22 L547.84,173.76 L548.51,173.30 L549.18,172.84 L549.85,172.38 L550.51,171.92 L551.18,171.47 L551.85,171.01 L552.52,170.56 L553.18,170.11 L553.85,169.66 L554.52,169.21 L555.19,168.76 L555.85,168.31 L556.52,167.87 L557.19,167.42 L557.86,166.98 L558.52,166.54 L559.19,166.10 L559.86,165.66 L560.53,165.22 L561.20,164.78 L561.86,164.34 L562.53,163.91 L563.20,163.48 L563.87,163.04 L564.53,162.61 L565.20,162.18 L565.87,161.75 L566.54,161.33 L567.20,160.90 L567.87,160.48 L568.54,160.05 L569.21,159.63 L569.87,159.21 L570.54,158.79 L571.21,158.37 L571.88,157.95 L572.54,157.54 L573.21,157.12 L573.88,156.71 L574.55,156.30 L575.22,155.89 L575.88,155.48 L576.55,155.07 L577.22,154.66 L577.89,154.25 L578.55,153.85 L579.22,153.45 L579.89,153.05 L580.56,152.64 L581.22,152.25 L581.89,151.85 L582.56,151.45 L583.23,151.06 L583.89,150.66 L584.56,150.27 L585.23,149.88 L585.90,149.49 L586.57,149.10 L587.23,148.71 L587.90,148.33 L588.57,147.94 L589.24,147.56 L589.90,147.18 L590.57,146.80 L591.24,146.42 L591.91,146.04 L592.57,145.66 L593.24,145.29 L593.91,144.91 L594.58,144.54 L595.24,144.17 L595.91,143.80 L596.58,143.43 L597.25,143.06 L597.92,142.70 L598.58,142.33 L599.25,141.97 L599.92,141.61 L600.59,141.25 L601.25,140.89 L601.92,140.53 L602.59,140.18 L603.26,139.82 L603.92,139.47 L604.59,139.12 L605.26,138.77 L605.93,138.42 L606.59,138.07 L607.26,137.73 L607.93,137.39 L608.60,137.04 L609.27,136.70 L609.93,136.36 L610.60,136.02 L611.27,135.69 L611.94,135.35 L612.60,135.02 L613.27,134.69 L613.94,134.36 L614.61,134.03 L615.27,133.70 L615.94,133.38 L616.61,133.05 L617.28,132.73 L617.94,132.41 L618.61,132.09 L619.28,131.77 L619.95,131.45 L620.62,131.14 L621.28,130.83 L621.95,130.51 L622.62,130.20 L623.29,129.90 L623.95,129.59 L624.62,129.28 L625.29,128.98 L625.96,128.68 L626.62,128.38 L627.29,128.08 L627.96,127.78 L628.63,127.49 L629.29,127.19 L629.96,126.90 L630.63,126.61 L631.30,126.32 L631.96,126.04 L632.63,125.75 L633.30,125.47 L633.97,125.19 L634.64,124.90 L635.30,124.63 L635.97,124.35 L636.64,124.07 L637.31,123.80 L637.97,123.53 L638.64,123.26 L639.31,122.99 L639.98,122.73 L640.64,122.46 L641.31,122.20 L641.98,121.94 L642.65,121.68 L643.31,121.42 L643.98,121.16 L644.65,120.91 L645.32,120.66 L645.99,120.41 L646.65,120.16 L647.32,119.91 L647.99,119.67 L648.66,119.42 L649.32,119.18 L649.99,118.94 L650.66,118.70 L651.33,118.47 L651.99,118.23 L652.66,118.00 L653.33,117.77 L654.00,117.54 L654.66,117.32 L655.33,117.09 L656.00,116.87" fill="none" stroke="#4DAF4A" stroke-width="3.2" stroke-linejoin="round" stroke-linecap="butt"/>
<path d="M84.80,536.10 L85.47,536.46 L86.14,536.59 L86.80,536.55 L87.47,536.37 L88.14,536.07 L88.81,535.70 L89.48,535.28 L90.14,534.86 L90.81,534.47 L91.48,534.09 L92.15,533.73 L92.82,533.39 L93.48,533.06 L94.15,532.74 L94.82,532.44 L95.49,532.15 L96.16,531.86 L96.83,531.58 L97.49,531.31 L98.16,531.04 L98.83,530.77 L99.50,530.50 L100.17,530.23 L100.83,529.96 L101.50,529.70 L102.17,529.44 L102.84,529.18 L103.51,528.92 L104.17,528.67 L104.84,528.42 L105.51,528.18 L106.18,527.94 L106.85,527.70 L107.51,527.47 L108.18,527.25 L108.85,527.03 L109.52,526.81 L110.19,526.60 L110.85,526.40 L111.52,526.20 L112.19,526.01 L112.86,525.83 L113.53,525.65 L114.20,525.47 L114.86,525.30 L115.53,525.14 L116.20,524.98 L116.87,524.82 L117.54,524.67 L118.20,524.52 L118.87,524.37 L119.54,524.23 L120.21,524.09 L120.88,523.96 L121.54,523.82 L122.21,523.69 L122.88,523.57 L123.55,523.44 L124.22,523.32 L124.88,523.19 L125.55,523.07 L126.22,522.95 L126.89,522.84 L127.56,522.72 L128.22,522.60 L128.89,522.49 L129.56,522.37 L130.23,522.26 L130.90,522.14 L131.56,522.02 L132.23,521.91 L132.90,521.79 L133.57,521.68 L134.24,521.56 L134.91,521.45 L135.57,521.33 L136.24,521.21 L136.91,521.10 L137.58,520.98 L138.25,520.87 L138.91,520.75 L139.58,520.64 L140.25,520.52 L140.92,520.40 L141.59,520.29 L142.25,520.17 L142.92,520.06 L143.59,519.94 L144.26,519.83 L144.93,519.71 L145.59,519.59 L146.26,519.48 L146.93,519.36 L147.60,519.25 L148.27,519.13 L148.93,519.02 L149.60,518.90 L150.27,518.79 L150.94,518.67 L151.61,518.56 L152.28,518.44 L152.94,518.33 L153.61,518.21 L154.28,518.10 L154.95,517.98 L155.62,517.87 L156.28,517.76 L156.95,517.64 L157.62,517.53 L158.29,517.41 L158.96,517.30 L159.62,517.19 L160.29,517.07 L160.96,516.96 L161.63,516.85 L162.30,516.73 L162.96,516.62 L163.63,516.51 L164.30,516.40 L164.97,516.28 L165.64,516.17 L166.30,516.06 L166.97,515.95 L167.64,515.84 L168.31,515.73 L168.98,515.61 L169.64,515.50 L170.31,515.39 L170.98,515.28 L171.65,515.17 L172.32,515.06 L172.99,514.95 L173.65,514.84 L174.32,514.73 L174.99,514.62 L175.66,514.51 L176.33,514.41 L176.99,514.30 L177.66,514.19 L178.33,514.08 L179.00,513.97 L179.67,513.86 L180.33,513.75 L181.00,513.64 L181.67,513.54 L182.34,513.43 L183.01,513.32 L183.67,513.21 L184.34,513.10 L185.01,512.99 L185.68,512.89 L186.35,512.78 L187.01,512.67 L187.68,512.56 L188.35,512.45 L189.02,512.35 L189.69,512.24 L190.36,512.13 L191.02,512.02 L191.69,511.91 L192.36,511.80 L193.03,511.70 L193.70,511.59 L194.36,511.48 L195.03,511.37 L195.70,511.26 L196.37,511.15 L197.04,511.04 L197.70,510.93 L198.37,510.83 L199.04,510.72 L199.71,510.61 L200.38,510.50 L201.04,510.39 L201.71,510.28 L202.38,510.17 L203.05,510.06 L203.72,509.94 L204.38,509.83 L205.05,509.72 L205.72,509.61 L206.39,509.50 L207.06,509.39 L207.72,509.28 L208.39,509.16 L209.06,509.05 L209.73,508.94 L210.40,508.82 L211.07,508.71 L211.73,508.60 L212.40,508.48 L213.07,508.37 L213.74,508.25 L214.41,508.14 L215.07,508.02 L215.74,507.91 L216.41,507.79 L217.08,507.67 L217.75,507.56 L218.41,507.44 L219.08,507.32 L219.75,507.20 L220.42,507.08 L221.09,506.96 L221.75,506.85 L222.42,506.73 L223.09,506.60 L223.76,506.48 L224.43,506.36 L225.09,506.24 L225.76,506.12 L226.43,506.00 L227.10,505.87 L227.77,505.75 L228.44,505.62 L229.10,505.50 L229.77,505.37 L230.44,505.25 L231.11,505.12 L231.78,504.99 L232.44,504.87 L233.11,504.74 L233.78,504.61 L234.45,504.48 L235.12,504.35 L235.78,504.22 L236.45,504.09 L237.12,503.96 L237.79,503.83 L238.46,503.70 L239.12,503.56 L239.79,503.43 L240.46,503.30 L241.13,503.16 L241.80,503.03 L242.46,502.90 L243.13,502.76 L243.80,502.63 L244.47,502.49 L245.14,502.35 L245.80,502.22 L246.47,502.08 L247.14,501.94 L247.81,501.81 L248.48,501.67 L249.15,501.53 L249.81,501.39 L250.48,501.25 L251.15,501.11 L251.82,500.98 L252.49,500.84 L253.15,500.70 L253.82,500.56 L254.49,500.42 L255.16,500.28 L255.83,500.14 L256.49,499.99 L257.16,499.85 L257.83,499.71 L258.50,499.57 L259.17,499.43 L259.83,499.29 L260.50,499.15 L261.17,499.00 L261.84,498.86 L262.51,498.72 L263.17,498.58 L263.84,498.43 L264.51,498.29 L265.18,498.15 L265.85,498.00 L266.52,497.86 L267.18,497.72 L267.85,497.57 L268.52,497.43 L269.19,497.29 L269.86,497.14 L270.52,497.00 L271.19,496.86 L271.86,496.71 L272.53,496.57 L273.20,496.43 L273.86,496.28 L274.53,496.14 L275.20,495.99 L275.87,495.85 L276.54,495.71 L277.20,495.56 L277.87,495.42 L278.54,495.28 L279.21,495.13 L279.88,494.99 L280.54,494.85 L281.21,494.70 L281.88,494.56 L282.55,494.42 L283.22,494.28 L283.88,494.13 L284.55,493.99 L285.22,493.85 L285.89,493.71 L286.56,493.56 L287.23,493.42 L287.89,493.28 L288.56,493.14 L289.23,493.00 L289.90,492.86 L290.57,492.72 L291.23,492.57 L291.90,492.43 L292.57,492.29 L293.24,492.15 L293.91,492.01 L294.57,491.87 L295.24,491.74 L295.91,491.60 L296.58,491.46 L297.25,491.32 L297.91,491.18 L298.58,491.04 L299.25,490.91 L299.92,490.77 L300.59,490.63 L301.25,490.50 L301.92,490.36 L302.59,490.22 L303.26,490.09 L303.93,489.95 L304.60,489.82 L305.26,489.69 L305.93,489.55 L306.60,489.42 L307.27,489.28 L307.94,489.15 L308.60,489.02 L309.27,488.89 L309.94,488.76 L310.61,488.62 L311.28,488.49 L311.94,488.36 L312.61,488.23 L313.28,488.10 L313.95,487.97 L314.62,487.84 L315.28,487.71 L315.95,487.58 L316.62,487.46 L317.29,487.33 L317.96,487.20 L318.62,487.07 L319.29,486.95 L319.96,486.82 L320.63,486.69 L321.30,486.57 L321.96,486.44 L322.63,486.32 L323.30,486.19 L323.97,486.07 L324.64,485.95 L325.31,485.82 L325.97,485.70 L326.64,485.58 L327.31,485.46 L327.98,485.33 L328.65,485.21 L329.31,485.09 L329.98,484.97 L330.65,484.85 L331.32,484.73 L331.99,484.61 L332.65,484.49 L333.32,484.37 L333.99,484.25 L334.66,484.14 L335.33,484.02 L335.99,483.90 L336.66,483.78 L337.33,483.67 L338.00,483.55 L338.67,483.44 L339.33,483.32 L340.00,483.20 L340.67,483.09 L341.34,482.98 L342.01,482.86 L342.68,482.75 L343.34,482.64 L344.01,482.52 L344.68,482.41 L345.35,482.30 L346.02,482.19 L346.68,482.08 L347.35,481.97 L348.02,481.86 L348.69,481.75 L349.36,481.64 L350.02,481.53 L350.69,481.42 L351.36,481.31 L352.03,481.21 L352.70,481.10 L353.36,480.99 L354.03,480.89 L354.70,480.78 L355.37,480.67 L356.04,480.57 L356.70,480.46 L357.37,480.36 L358.04,480.26 L358.71,480.15 L359.38,480.05 L360.04,479.95 L360.71,479.85 L361.38,479.74 L362.05,479.64 L362.72,479.54 L363.39,479.44 L364.05,479.34 L364.72,479.24 L365.39,479.14 L366.06,479.05 L366.73,478.95 L367.39,478.85 L368.06,478.75 L368.73,478.66 L369.40,478.56 L370.07,478.46 L370.73,478.37 L371.40,478.27 L372.07,478.18 L372.74,478.08 L373.41,477.99 L374.07,477.90 L374.74,477.80 L375.41,477.71 L376.08,477.62 L376.75,477.53 L377.41,477.44 L378.08,477.35 L378.75,477.26 L379.42,477.17 L380.09,477.08 L380.76,476.99 L381.42,476.90 L382.09,476.81 L382.76,476.72 L383.43,476.64 L384.10,476.55 L384.76,476.47 L385.43,476.38 L386.10,476.29 L386.77,476.21 L387.44,476.13 L388.10,476.04 L388.77,475.96 L389.44,475.88 L390.11,475.79 L390.78,475.71 L391.44,475.63 L392.11,475.55 L392.78,475.47 L393.45,475.39 L394.12,475.31 L394.78,475.23 L395.45,475.15 L396.12,475.07 L396.79,474.99 L397.46,474.91 L398.12,474.84 L398.79,474.76 L399.46,474.68 L400.13,474.61 L400.80,474.53 L401.47,474.45 L402.13,474.38 L402.80,474.31 L403.47,474.23 L404.14,474.16 L404.81,474.08 L405.47,474.01 L406.14,473.94 L406.81,473.87 L407.48,473.79 L408.15,473.72 L408.81,473.65 L409.48,473.58 L410.15,473.51 L410.82,473.44 L411.49,473.37 L412.15,473.30 L412.82,473.23 L413.49,473.16 L414.16,473.10 L414.83,473.03 L415.49,472.96 L416.16,472.89 L416.83,472.83 L417.50,472.76 L418.17,472.69 L418.84,472.63 L419.50,472.56 L420.17,472.50 L420.84,472.43 L421.51,472.37 L422.18,472.31 L422.84,472.24 L423.51,472.18 L424.18,472.12 L424.85,472.05 L425.52,471.99 L426.18,471.93 L426.85,471.87 L427.52,471.81 L428.19,471.75 L428.86,471.69 L429.52,471.63 L430.19,471.57 L430.86,471.51 L431.53,471.45 L432.20,471.39 L432.86,471.33 L433.53,471.27 L434.20,471.21 L434.87,471.16 L435.54,471.10 L436.20,471.04 L436.87,470.99 L437.54,470.93 L438.21,470.87 L438.88,470.82 L439.55,470.76 L440.21,470.71 L440.88,470.65 L441.55,470.60 L442.22,470.54 L442.89,470.49 L443.55,470.44 L444.22,470.38 L444.89,470.33 L445.56,470.28 L446.23,470.22 L446.89,470.17 L447.56,470.12 L448.23,470.07 L448.90,470.02 L449.57,469.96 L450.23,469.91 L450.90,469.86 L451.57,469.81 L452.24,469.76 L452.91,469.71 L453.57,469.66 L454.24,469.61 L454.91,469.56 L455.58,469.52 L456.25,469.47 L456.92,469.42 L457.58,469.37 L458.25,469.32 L458.92,469.28 L459.59,469.23 L460.26,469.18 L460.92,469.13 L461.59,469.09 L462.26,469.04 L462.93,468.99 L463.60,468.95 L464.26,468.90 L464.93,468.86 L465.60,468.81 L466.27,468.77 L466.94,468.72 L467.60,468.68 L468.27,468.63 L468.94,468.59 L469.61,468.55 L470.28,468.50 L470.94,468.46 L471.61,468.42 L472.28,468.37 L472.95,468.33 L473.62,468.29 L474.28,468.25 L474.95,468.20 L475.62,468.16 L476.29,468.12 L476.96,468.08 L477.63,468.04 L478.29,468.00 L478.96,467.95 L479.63,467.91 L480.30,467.87 L480.97,467.83 L481.63,467.79 L482.30,467.75 L482.97,467.71 L483.64,467.67 L484.31,467.63 L484.97,467.60 L485.64,467.56 L486.31,467.52 L486.98,467.48 L487.65,467.44 L488.31,467.40 L488.98,467.37 L489.65,467.33 L490.32,467.29 L490.99,467.25 L491.65,467.22 L492.32,467.18 L492.99,467.14 L493.66,467.11 L494.33,467.07 L495.00,467.03 L495.66,467.00 L496.33,466.96 L497.00,466.93 L497.67,466.89 L498.34,466.86 L499.00,466.82 L499.67,466.79 L500.34,466.75 L501.01,466.72 L501.68,466.68 L502.34,466.65 L503.01,466.61 L503.68,466.58 L504.35,466.55 L505.02,466.51 L505.68,466.48 L506.35,466.45 L507.02,466.41 L507.69,466.38 L508.36,466.35 L509.02,466.32 L509.69,466.28 L510.36,466.25 L511.03,466.22 L511.70,466.19 L512.36,466.16 L513.03,466.13 L513.70,466.09 L514.37,466.06 L515.04,466.03 L515.71,466.00 L516.37,465.97 L517.04,465.94 L517.71,465.91 L518.38,465.88 L519.05,465.85 L519.71,465.82 L520.38,465.79 L521.05,465.76 L521.72,465.73 L522.39,465.70 L523.05,465.68 L523.72,465.65 L524.39,465.62 L525.06,465.59 L525.73,465.56 L526.39,465.53 L527.06,465.51 L527.73,465.48 L528.40,465.45 L529.07,465.42 L529.73,465.40 L530.40,465.37 L531.07,465.34 L531.74,465.31 L532.41,465.29 L533.08,465.26 L533.74,465.23 L534.41,465.21 L535.08,465.18 L535.75,465.16 L536.42,465.13 L537.08,465.10 L537.75,465.08 L538.42,465.05 L539.09,465.03 L539.76,465.00 L540.42,464.98 L541.09,464.95 L541.76,464.93 L542.43,464.90 L543.10,464.88 L543.76,464.85 L544.43,464.83 L545.10,464.81 L545.77,464.78 L546.44,464.76 L547.10,464.73 L547.77,464.71 L548.44,464.69 L549.11,464.66 L549.78,464.64 L550.44,464.62 L551.11,464.60 L551.78,464.57 L552.45,464.55 L553.12,464.53 L553.79,464.50 L554.45,464.48 L555.12,464.46 L555.79,464.44 L556.46,464.42 L557.13,464.39 L557.79,464.37 L558.46,464.35 L559.13,464.33 L559.80,464.31 L560.47,464.29 L561.13,464.27 L561.80,464.25 L562.47,464.22 L563.14,464.20 L563.81,464.18 L564.47,464.16 L565.14,464.14 L565.81,464.12 L566.48,464.10 L567.15,464.08 L567.81,464.06 L568.48,464.04 L569.15,464.02 L569.82,464.00 L570.49,463.98 L571.16,463.96 L571.82,463.94 L572.49,463.92 L573.16,463.91 L573.83,463.89 L574.50,463.87 L575.16,463.85 L575.83,463.83 L576.50,463.81 L577.17,463.79 L577.84,463.77 L578.50,463.76 L579.17,463.74 L579.84,463.72 L580.51,463.70 L581.18,463.68 L581.84,463.67 L582.51,463.65 L583.18,463.63 L583.85,463.61 L584.52,463.60 L585.18,463.58 L585.85,463.56 L586.52,463.54 L587.19,463.53 L587.86,463.51 L588.52,463.49 L589.19,463.48 L589.86,463.46 L590.53,463.44 L591.20,463.43 L591.87,463.41 L592.53,463.39 L593.20,463.38 L593.87,463.36 L594.54,463.34 L595.21,463.33 L595.87,463.31 L596.54,463.30 L597.21,463.28 L597.88,463.26 L598.55,463.25 L599.21,463.23 L599.88,463.22 L600.55,463.20 L601.22,463.19 L601.89,463.17 L602.55,463.16 L603.22,463.14 L603.89,463.13 L604.56,463.11 L605.23,463.10 L605.89,463.08 L606.56,463.07 L607.23,463.05 L607.90,463.04 L608.57,463.02 L609.24,463.01 L609.90,462.99 L610.57,462.98 L611.24,462.96 L611.91,462.95 L612.58,462.94 L613.24,462.92 L613.91,462.91 L614.58,462.89 L615.25,462.88 L615.92,462.87 L616.58,462.85 L617.25,462.84 L617.92,462.82 L618.59,462.81 L619.26,462.80 L619.92,462.78 L620.59,462.77 L621.26,462.76 L621.93,462.74 L622.60,462.73 L623.26,462.72 L623.93,462.70 L624.60,462.69 L625.27,462.68 L625.94,462.66 L626.60,462.65 L627.27,462.64 L627.94,462.63 L628.61,462.61 L629.28,462.60 L629.95,462.59 L630.61,462.57 L631.28,462.56 L631.95,462.55 L632.62,462.54 L633.29,462.52 L633.95,462.51 L634.62,462.50 L635.29,462.49 L635.96,462.47 L636.63,462.46 L637.29,462.45 L637.96,462.44 L638.63,462.42 L639.30,462.41 L639.97,462.40 L640.63,462.39 L641.30,462.38 L641.97,462.36 L642.64,462.35 L643.31,462.34 L643.97,462.33 L644.64,462.31 L645.31,462.30 L645.98,462.29 L646.65,462.28 L647.32,462.27 L647.98,462.26 L648.65,462.24 L649.32,462.23 L649.99,462.22 L650.66,462.21 L651.32,462.20 L651.99,462.18 L652.66,462.17 L653.33,462.16 L654.00,462.15 L654.66,462.14 L655.33,462.13 L656.00,462.12" fill="none" stroke="#984EA3" stroke-width="3.2" stroke-linejoin="round" stroke-linecap="butt"/>
<path d="M85.00,535.00 L85.67,532.39 L86.34,530.20 L87.00,528.19 L87.67,526.16 L88.34,524.10 L89.01,522.09 L89.67,520.18 L90.34,518.44 L91.01,516.88 L91.68,515.46 L92.34,514.16 L93.01,512.93 L93.68,511.74 L94.35,510.55 L95.01,509.37 L95.68,508.18 L96.35,507.01 L97.02,505.87 L97.69,504.76 L98.35,503.69 L99.02,502.69 L99.69,501.74 L100.36,500.86 L101.02,500.04 L101.69,499.26 L102.36,498.53 L103.03,497.84 L103.69,497.18 L104.36,496.55 L105.03,495.94 L105.70,495.35 L106.36,494.78 L107.03,494.21 L107.70,493.65 L108.37,493.10 L109.04,492.57 L109.70,492.04 L110.37,491.52 L111.04,491.01 L111.71,490.51 L112.37,490.01 L113.04,489.53 L113.71,489.05 L114.38,488.58 L115.04,488.13 L115.71,487.68 L116.38,487.23 L117.05,486.80 L117.71,486.37 L118.38,485.95 L119.05,485.54 L119.72,485.13 L120.38,484.73 L121.05,484.33 L121.72,483.94 L122.39,483.55 L123.06,483.17 L123.72,482.79 L124.39,482.42 L125.06,482.05 L125.73,481.68 L126.39,481.31 L127.06,480.95 L127.73,480.58 L128.40,480.22 L129.06,479.86 L129.73,479.50 L130.40,479.14 L131.07,478.78 L131.73,478.42 L132.40,478.06 L133.07,477.70 L133.74,477.34 L134.41,476.98 L135.07,476.62 L135.74,476.26 L136.41,475.90 L137.08,475.53 L137.74,475.17 L138.41,474.81 L139.08,474.45 L139.75,474.08 L140.41,473.72 L141.08,473.36 L141.75,472.99 L142.42,472.63 L143.08,472.26 L143.75,471.90 L144.42,471.53 L145.09,471.16 L145.76,470.80 L146.42,470.43 L147.09,470.06 L147.76,469.69 L148.43,469.32 L149.09,468.95 L149.76,468.58 L150.43,468.20 L151.10,467.83 L151.76,467.46 L152.43,467.08 L153.10,466.71 L153.77,466.33 L154.43,465.95 L155.10,465.57 L155.77,465.19 L156.44,464.81 L157.11,464.43 L157.77,464.05 L158.44,463.67 L159.11,463.28 L159.78,462.90 L160.44,462.51 L161.11,462.12 L161.78,461.73 L162.45,461.34 L163.11,460.95 L163.78,460.56 L164.45,460.17 L165.12,459.77 L165.78,459.38 L166.45,458.98 L167.12,458.58 L167.79,458.19 L168.46,457.79 L169.12,457.38 L169.79,456.98 L170.46,456.58 L171.13,456.18 L171.79,455.77 L172.46,455.36 L173.13,454.96 L173.80,454.55 L174.46,454.14 L175.13,453.73 L175.80,453.31 L176.47,452.90 L177.13,452.49 L177.80,452.07 L178.47,451.66 L179.14,451.24 L179.80,450.82 L180.47,450.40 L181.14,449.98 L181.81,449.56 L182.48,449.13 L183.14,448.71 L183.81,448.28 L184.48,447.86 L185.15,447.43 L185.81,447.00 L186.48,446.57 L187.15,446.14 L187.82,445.71 L188.48,445.28 L189.15,444.84 L189.82,444.41 L190.49,443.97 L191.15,443.53 L191.82,443.10 L192.49,442.66 L193.16,442.22 L193.83,441.77 L194.49,441.33 L195.16,440.89 L195.83,440.44 L196.50,440.00 L197.16,439.55 L197.83,439.10 L198.50,438.65 L199.17,438.20 L199.83,437.75 L200.50,437.30 L201.17,436.84 L201.84,436.39 L202.50,435.93 L203.17,435.48 L203.84,435.02 L204.51,434.56 L205.18,434.10 L205.84,433.64 L206.51,433.17 L207.18,432.71 L207.85,432.25 L208.51,431.78 L209.18,431.31 L209.85,430.85 L210.52,430.38 L211.18,429.91 L211.85,429.44 L212.52,428.96 L213.19,428.49 L213.85,428.02 L214.52,427.54 L215.19,427.06 L215.86,426.59 L216.53,426.11 L217.19,425.63 L217.86,425.15 L218.53,424.67 L219.20,424.19 L219.86,423.70 L220.53,423.22 L221.20,422.74 L221.87,422.25 L222.53,421.76 L223.20,421.28 L223.87,420.79 L224.54,420.30 L225.20,419.81 L225.87,419.32 L226.54,418.83 L227.21,418.34 L227.88,417.85 L228.54,417.35 L229.21,416.86 L229.88,416.36 L230.55,415.87 L231.21,415.37 L231.88,414.88 L232.55,414.38 L233.22,413.88 L233.88,413.38 L234.55,412.88 L235.22,412.38 L235.89,411.88 L236.55,411.38 L237.22,410.88 L237.89,410.38 L238.56,409.88 L239.22,409.38 L239.89,408.87 L240.56,408.37 L241.23,407.86 L241.90,407.36 L242.56,406.85 L243.23,406.35 L243.90,405.84 L244.57,405.34 L245.23,404.83 L245.90,404.32 L246.57,403.82 L247.24,403.31 L247.90,402.80 L248.57,402.29 L249.24,401.78 L249.91,401.27 L250.57,400.77 L251.24,400.26 L251.91,399.75 L252.58,399.24 L253.25,398.73 L253.91,398.22 L254.58,397.71 L255.25,397.20 L255.92,396.68 L256.58,396.17 L257.25,395.66 L257.92,395.15 L258.59,394.64 L259.25,394.13 L259.92,393.62 L260.59,393.11 L261.26,392.59 L261.92,392.08 L262.59,391.57 L263.26,391.06 L263.93,390.55 L264.60,390.04 L265.26,389.53 L265.93,389.02 L266.60,388.51 L267.27,387.99 L267.93,387.48 L268.60,386.97 L269.27,386.46 L269.94,385.95 L270.60,385.45 L271.27,384.94 L271.94,384.43 L272.61,383.92 L273.27,383.41 L273.94,382.91 L274.61,382.40 L275.28,381.89 L275.95,381.39 L276.61,380.88 L277.28,380.38 L277.95,379.87 L278.62,379.37 L279.28,378.87 L279.95,378.36 L280.62,377.86 L281.29,377.36 L281.95,376.86 L282.62,376.36 L283.29,375.86 L283.96,375.37 L284.62,374.87 L285.29,374.37 L285.96,373.88 L286.63,373.38 L287.29,372.89 L287.96,372.40 L288.63,371.91 L289.30,371.42 L289.97,370.93 L290.63,370.44 L291.30,369.95 L291.97,369.47 L292.64,368.98 L293.30,368.50 L293.97,368.02 L294.64,367.54 L295.31,367.06 L295.97,366.58 L296.64,366.10 L297.31,365.62 L297.98,365.15 L298.64,364.68 L299.31,364.20 L299.98,363.73 L300.65,363.26 L301.32,362.80 L301.98,362.33 L302.65,361.87 L303.32,361.40 L303.99,360.94 L304.65,360.48 L305.32,360.02 L305.99,359.57 L306.66,359.11 L307.32,358.66 L307.99,358.21 L308.66,357.76 L309.33,357.31 L309.99,356.86 L310.66,356.42 L311.33,355.98 L312.00,355.53 L312.67,355.10 L313.33,354.66 L314.00,354.22 L314.67,353.79 L315.34,353.36 L316.00,352.93 L316.67,352.50 L317.34,352.07 L318.01,351.65 L318.67,351.22 L319.34,350.80 L320.01,350.38 L320.68,349.96 L321.34,349.54 L322.01,349.13 L322.68,348.71 L323.35,348.30 L324.02,347.89 L324.68,347.48 L325.35,347.07 L326.02,346.67 L326.69,346.26 L327.35,345.86 L328.02,345.46 L328.69,345.06 L329.36,344.66 L330.02,344.26 L330.69,343.87 L331.36,343.47 L332.03,343.08 L332.69,342.69 L333.36,342.30 L334.03,341.91 L334.70,341.52 L335.37,341.13 L336.03,340.75 L336.70,340.36 L337.37,339.98 L338.04,339.60 L338.70,339.22 L339.37,338.84 L340.04,338.47 L340.71,338.09 L341.37,337.71 L342.04,337.34 L342.71,336.97 L343.38,336.60 L344.04,336.23 L344.71,335.86 L345.38,335.49 L346.05,335.13 L346.71,334.76 L347.38,334.40 L348.05,334.03 L348.72,333.67 L349.39,333.31 L350.05,332.95 L350.72,332.59 L351.39,332.23 L352.06,331.88 L352.72,331.52 L353.39,331.16 L354.06,330.81 L354.73,330.46 L355.39,330.11 L356.06,329.76 L356.73,329.41 L357.40,329.06 L358.06,328.71 L358.73,328.36 L359.40,328.01 L360.07,327.67 L360.74,327.32 L361.40,326.98 L362.07,326.64 L362.74,326.29 L363.41,325.95 L364.07,325.61 L364.74,325.27 L365.41,324.94 L366.08,324.60 L366.74,324.26 L367.41,323.93 L368.08,323.59 L368.75,323.26 L369.41,322.92 L370.08,322.59 L370.75,322.26 L371.42,321.93 L372.09,321.60 L372.75,321.28 L373.42,320.95 L374.09,320.62 L374.76,320.30 L375.42,319.98 L376.09,319.65 L376.76,319.33 L377.43,319.01 L378.09,318.69 L378.76,318.37 L379.43,318.06 L380.10,317.74 L380.76,317.43 L381.43,317.11 L382.10,316.80 L382.77,316.49 L383.44,316.18 L384.10,315.87 L384.77,315.56 L385.44,315.25 L386.11,314.95 L386.77,314.64 L387.44,314.34 L388.11,314.04 L388.78,313.74 L389.44,313.44 L390.11,313.14 L390.78,312.84 L391.45,312.55 L392.11,312.25 L392.78,311.96 L393.45,311.67 L394.12,311.38 L394.79,311.09 L395.45,310.80 L396.12,310.51 L396.79,310.23 L397.46,309.94 L398.12,309.66 L398.79,309.38 L399.46,309.10 L400.13,308.82 L400.79,308.55 L401.46,308.27 L402.13,308.00 L402.80,307.72 L403.46,307.45 L404.13,307.18 L404.80,306.91 L405.47,306.65 L406.13,306.38 L406.80,306.12 L407.47,305.85 L408.14,305.59 L408.81,305.33 L409.47,305.07 L410.14,304.82 L410.81,304.56 L411.48,304.31 L412.14,304.06 L412.81,303.81 L413.48,303.56 L414.15,303.31 L414.81,303.06 L415.48,302.82 L416.15,302.57 L416.82,302.33 L417.48,302.09 L418.15,301.85 L418.82,301.61 L419.49,301.38 L420.16,301.14 L420.82,300.91 L421.49,300.68 L422.16,300.45 L422.83,300.22 L423.49,299.99 L424.16,299.76 L424.83,299.53 L425.50,299.31 L426.16,299.09 L426.83,298.86 L427.50,298.64 L428.17,298.42 L428.83,298.21 L429.50,297.99 L430.17,297.77 L430.84,297.56 L431.51,297.34 L432.17,297.13 L432.84,296.92 L433.51,296.71 L434.18,296.50 L434.84,296.29 L435.51,296.09 L436.18,295.88 L436.85,295.68 L437.51,295.47 L438.18,295.27 L438.85,295.07 L439.52,294.87 L440.18,294.67 L440.85,294.47 L441.52,294.28 L442.19,294.08 L442.86,293.88 L443.52,293.69 L444.19,293.50 L444.86,293.31 L445.53,293.11 L446.19,292.92 L446.86,292.73 L447.53,292.55 L448.20,292.36 L448.86,292.17 L449.53,291.99 L450.20,291.80 L450.87,291.62 L451.53,291.43 L452.20,291.25 L452.87,291.07 L453.54,290.89 L454.21,290.71 L454.87,290.53 L455.54,290.35 L456.21,290.18 L456.88,290.00 L457.54,289.82 L458.21,289.65 L458.88,289.47 L459.55,289.30 L460.21,289.13 L460.88,288.96 L461.55,288.78 L462.22,288.61 L462.88,288.44 L463.55,288.27 L464.22,288.11 L464.89,287.94 L465.55,287.77 L466.22,287.60 L466.89,287.44 L467.56,287.27 L468.23,287.11 L468.89,286.95 L469.56,286.78 L470.23,286.62 L470.90,286.46 L471.56,286.30 L472.23,286.14 L472.90,285.98 L473.57,285.82 L474.23,285.67 L474.90,285.51 L475.57,285.35 L476.24,285.20 L476.90,285.04 L477.57,284.89 L478.24,284.74 L478.91,284.59 L479.58,284.44 L480.24,284.29 L480.91,284.14 L481.58,283.99 L482.25,283.84 L482.91,283.69 L483.58,283.55 L484.25,283.40 L484.92,283.26 L485.58,283.11 L486.25,282.97 L486.92,282.83 L487.59,282.69 L488.25,282.55 L488.92,282.41 L489.59,282.27 L490.26,282.13 L490.93,282.00 L491.59,281.86 L492.26,281.73 L492.93,281.59 L493.60,281.46 L494.26,281.33 L494.93,281.19 L495.60,281.06 L496.27,280.93 L496.93,280.80 L497.60,280.68 L498.27,280.55 L498.94,280.42 L499.60,280.30 L500.27,280.17 L500.94,280.05 L501.61,279.93 L502.28,279.81 L502.94,279.69 L503.61,279.57 L504.28,279.45 L504.95,279.33 L505.61,279.21 L506.28,279.10 L506.95,278.98 L507.62,278.87 L508.28,278.75 L508.95,278.64 L509.62,278.53 L510.29,278.42 L510.95,278.31 L511.62,278.20 L512.29,278.09 L512.96,277.99 L513.62,277.88 L514.29,277.78 L514.96,277.67 L515.63,277.57 L516.30,277.47 L516.96,277.37 L517.63,277.27 L518.30,277.17 L518.97,277.07 L519.63,276.98 L520.30,276.88 L520.97,276.79 L521.64,276.69 L522.30,276.60 L522.97,276.51 L523.64,276.42 L524.31,276.33 L524.97,276.24 L525.64,276.15 L526.31,276.06 L526.98,275.98 L527.65,275.89 L528.31,275.81 L528.98,275.72 L529.65,275.64 L530.32,275.56 L530.98,275.48 L531.65,275.40 L532.32,275.32 L532.99,275.24 L533.65,275.16 L534.32,275.09 L534.99,275.01 L535.66,274.93 L536.32,274.86 L536.99,274.79 L537.66,274.71 L538.33,274.64 L539.00,274.57 L539.66,274.50 L540.33,274.43 L541.00,274.36 L541.67,274.29 L542.33,274.22 L543.00,274.15 L543.67,274.08 L544.34,274.02 L545.00,273.95 L545.67,273.89 L546.34,273.82 L547.01,273.76 L547.67,273.69 L548.34,273.63 L549.01,273.57 L549.68,273.50 L550.35,273.44 L551.01,273.38 L551.68,273.32 L552.35,273.26 L553.02,273.20 L553.68,273.14 L554.35,273.08 L555.02,273.02 L555.69,272.97 L556.35,272.91 L557.02,272.85 L557.69,272.79 L558.36,272.74 L559.02,272.68 L559.69,272.62 L560.36,272.57 L561.03,272.51 L561.70,272.46 L562.36,272.40 L563.03,272.35 L563.70,272.30 L564.37,272.24 L565.03,272.19 L565.70,272.13 L566.37,272.08 L567.04,272.03 L567.70,271.98 L568.37,271.92 L569.04,271.87 L569.71,271.82 L570.37,271.77 L571.04,271.72 L571.71,271.66 L572.38,271.61 L573.04,271.56 L573.71,271.51 L574.38,271.46 L575.05,271.41 L575.72,271.36 L576.38,271.31 L577.05,271.26 L577.72,271.20 L578.39,271.15 L579.05,271.10 L579.72,271.05 L580.39,271.00 L581.06,270.95 L581.72,270.90 L582.39,270.85 L583.06,270.80 L583.73,270.75 L584.39,270.70 L585.06,270.64 L585.73,270.59 L586.40,270.54 L587.07,270.49 L587.73,270.44 L588.40,270.39 L589.07,270.33 L589.74,270.28 L590.40,270.23 L591.07,270.18 L591.74,270.13 L592.41,270.07 L593.07,270.02 L593.74,269.97 L594.41,269.91 L595.08,269.86 L595.74,269.81 L596.41,269.75 L597.08,269.70 L597.75,269.65 L598.42,269.59 L599.08,269.54 L599.75,269.49 L600.42,269.43 L601.09,269.38 L601.75,269.33 L602.42,269.27 L603.09,269.22 L603.76,269.17 L604.42,269.11 L605.09,269.06 L605.76,269.01 L606.43,268.96 L607.09,268.90 L607.76,268.85 L608.43,268.80 L609.10,268.75 L609.77,268.69 L610.43,268.64 L611.10,268.59 L611.77,268.54 L612.44,268.49 L613.10,268.44 L613.77,268.39 L614.44,268.34 L615.11,268.29 L615.77,268.24 L616.44,268.19 L617.11,268.14 L617.78,268.09 L618.44,268.04 L619.11,268.00 L619.78,267.95 L620.45,267.90 L621.12,267.86 L621.78,267.81 L622.45,267.76 L623.12,267.72 L623.79,267.68 L624.45,267.63 L625.12,267.59 L625.79,267.54 L626.46,267.50 L627.12,267.46 L627.79,267.42 L628.46,267.38 L629.13,267.34 L629.79,267.30 L630.46,267.26 L631.13,267.22 L631.80,267.18 L632.46,267.14 L633.13,267.11 L633.80,267.07 L634.47,267.04 L635.14,267.00 L635.80,266.97 L636.47,266.94 L637.14,266.90 L637.81,266.87 L638.47,266.84 L639.14,266.81 L639.81,266.78 L640.48,266.75 L641.14,266.73 L641.81,266.70 L642.48,266.67 L643.15,266.65 L643.81,266.63 L644.48,266.60 L645.15,266.58 L645.82,266.56 L646.49,266.54 L647.15,266.52 L647.82,266.50 L648.49,266.48 L649.16,266.47 L649.82,266.45 L650.49,266.44 L651.16,266.42 L651.83,266.41 L652.49,266.40 L653.16,266.39 L653.83,266.38 L654.50,266.37 L655.16,266.36 L655.83,266.36 L656.50,266.35" fill="none" stroke="#FF7F00" stroke-width="3.2" stroke-linejoin="round" stroke-linecap="butt"/>
<line x1="55.8" x2="55.8" y1="35.2" y2="559.1" stroke="#000" stroke-width="2.2"/>
<line x1="54.7" x2="685" y1="558.4" y2="558.4" stroke="#000" stroke-width="2.3"/>
<text x="84.60" y="584" class="tk" text-anchor="middle">0</text>
<text x="275.23" y="584" class="tk" text-anchor="middle">100</text>
<text x="465.86" y="584" class="tk" text-anchor="middle">200</text>
<text x="656.49" y="584" class="tk" text-anchor="middle">300</text>
<text x="45" y="543.90" class="tk" text-anchor="end">0</text>
<text x="45" y="424.22" class="tk" text-anchor="end">20</text>
<text x="45" y="304.54" class="tk" text-anchor="end">40</text>
<text x="45" y="184.86" class="tk" text-anchor="end">60</text>
<text x="45" y="65.18" class="tk" text-anchor="end">80</text>
<text x="370.5" y="609.5" class="at" text-anchor="middle">Time (months)</text>
<text transform="translate(17.3,297.1) rotate(-90)" class="at yt" text-anchor="middle">Number of infected individuals</text>
<text x="374" y="19" class="tt" text-anchor="middle">HIV dynamics with drug resistance (ω &gt; 0)</text>
<text x="150" y="669.2" class="lt">Infected group</text>
<line x1="305.4" x2="325.8" y1="660.4" y2="660.4" stroke="#E41A1C" stroke-width="3.3"/>
<text x="338.1" y="667.6" class="lg">A</text>
<line x1="364.1" x2="384.5" y1="660.4" y2="660.4" stroke="#377EB8" stroke-width="3.3"/>
<text x="398.5" y="667.6" class="lg">Ia</text>
<line x1="426.8" x2="447.2" y1="660.4" y2="660.4" stroke="#4DAF4A" stroke-width="3.3"/>
<text x="460.2" y="667.6" class="lg">Ib</text>
<line x1="488.9" x2="509.3" y1="660.4" y2="660.4" stroke="#984EA3" stroke-width="3.3"/>
<text x="521.2" y="667.6" class="lg">R</text>
<line x1="548.1" x2="568.5" y1="660.4" y2="660.4" stroke="#FF7F00" stroke-width="3.3"/>
<text x="581.3" y="667.6" class="lg">T</text>
</svg>
</body></html>
